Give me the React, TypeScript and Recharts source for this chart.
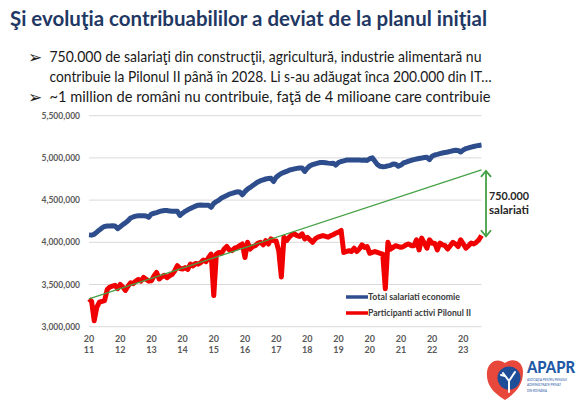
import React from 'react'
import {
  LineChart, Line, XAxis, YAxis, CartesianGrid, Legend, ReferenceLine,
} from 'recharts'

const BLUE = '#2E4D8C'
const RED = '#F00000'
const GREEN = '#45A045'
const NAVY = '#1F3864'

// ani (etichete axa X) si lunile fiecarui an
const YEARS = ['2011', '2012', '2013', '2014', '2015', '2016', '2017', '2018', '2019', '2020', '2021', '2022', '2023']
const MONTHS = ['01', '02', '03', '04', '05', '06', '07', '08', '09', '10', '11', '12']

// Total salariati economie (mii), lunar ian 2011 - aug 2023
const totalSalariati = [
  4088, 4085, 4095, 4120, 4147, 4170, 4188, 4192, 4193, 4195, 4194, 4162,
  4185, 4210, 4230, 4255, 4288, 4300, 4310, 4315, 4316, 4315, 4312, 4296,
  4335, 4344, 4352, 4362, 4372, 4376, 4377, 4370, 4368, 4369, 4367, 4318,
  4345, 4367, 4385, 4400, 4415, 4428, 4440, 4443, 4438, 4440, 4438, 4415,
  4462, 4482, 4500, 4526, 4540, 4555, 4571, 4580, 4590, 4598, 4596, 4563,
  4600, 4630, 4650, 4672, 4695, 4715, 4730, 4740, 4750, 4755, 4758, 4720,
  4770, 4795, 4815, 4828, 4840, 4855, 4862, 4870, 4876, 4880, 4880, 4840,
  4880, 4907, 4920, 4930, 4938, 4946, 4946, 4942, 4938, 4935, 4936, 4915,
  4945, 4958, 4965, 4975, 4976, 4975, 4974, 4976, 4975, 4972, 4975, 4970,
  4990, 5000, 4960, 4920, 4900, 4896, 4898, 4905, 4912, 4927, 4925, 4900,
  4915, 4940, 4950, 4962, 4972, 4980, 4987, 4993, 4998, 5005, 5007, 4980,
  5020, 5035, 5042, 5050, 5058, 5065, 5070, 5078, 5085, 5090, 5088, 5070,
  5095, 5110, 5118, 5128, 5135, 5142, 5148, 5152,
]

// Participanti activi Pilonul II (mii)
const participantiPilon2 = [
  3328, 3300, 3070, 3230, 3290, 3300, 3310, 3440, 3470, 3480, 3490, 3450,
  3500, 3470, 3430, 3480, 3520, 3510, 3540, 3560, 3540, 3585, 3560, 3540,
  3545, 3600, 3643, 3565, 3590, 3610, 3580, 3604, 3620, 3663, 3723, 3690,
  3684, 3700, 3680, 3743, 3720, 3750, 3740, 3760, 3790, 3770, 3820, 3860,
  3370, 3860, 3880, 3870, 3920, 3950, 3910, 3900, 3930, 3940, 3960, 3980,
  3820, 4000, 3920, 3950, 3960, 3990, 4000, 3970, 4020, 3980, 4040, 4020,
  4015, 3900, 3590, 4060, 4020, 4060, 4090, 4100, 4080, 4070, 4100, 4040,
  4060, 4030, 4000, 4040, 4060, 4070, 4080, 4070, 4060, 4080, 4090, 4110,
  4120, 4140, 3880, 3890, 3900, 3890, 3930, 3890, 3920, 3970, 3940, 3950,
  3870, 3880, 3890, 3880, 3870, 3860, 3450, 4000, 3920, 3940, 3960, 3950,
  3940, 3950, 3970, 3980, 3960, 3960, 4030, 3910, 4050, 3990, 3930, 4030,
  3990, 3990, 3910, 3990, 3970, 3960, 3920, 3960, 4000, 3980, 3950, 4030,
  3980, 3930, 3960, 3990, 3980, 4000, 4030, 4080,
]

// planul initial: linie dreapta intre doua capete (mii)
const planStart = 3330
const planEnd = 4858
// sageata "750.000 salariati" (mii)
const gapTop = 4858
const gapBottom = 4060

const Y_TICKS = [3000000, 3500000, 4000000, 4500000, 5000000, 5500000]

const labels = YEARS.flatMap(y => MONTHS.map(m => `${y}-${m}`)).slice(0, totalSalariati.length)
const last = labels.length - 1

const data = labels.map((m, i) => ({
  m,
  total: totalSalariati[i] * 1000,
  pilon: participantiPilon2[i] * 1000,
  plan: i === 0 ? planStart * 1000 : i === last ? planEnd * 1000 : null,
}))

const AXIS_FONT = 'Lato, "Open Sans", sans-serif'

const YearTick = (props: any) => {
  const { x, y, payload } = props
  const yr = String(payload.value).slice(0, 4)
  return (
    <text x={x} textAnchor="middle" fontFamily={AXIS_FONT} fontSize={9} fontWeight="bold" fill="#595959">
      <tspan x={x} y={y + 15.5}>{yr.slice(0, 2)}</tspan>
      <tspan x={x} y={y + 26.5}>{yr.slice(2)}</tspan>
    </text>
  )
}

const GapArrow = (props: any) => {
  const { x1, y1, y2 } = props
  const x = x1 + 4.5
  const mid = (y1 + y2) / 2
  return (
    <g>
      <line x1={x} x2={x} y1={y1 + 1} y2={y2 - 1} stroke={GREEN} strokeWidth={1.8} />
      <polyline points={`${x - 5},${y1 + 7} ${x},${y1 + 1} ${x + 5},${y1 + 7}`} fill="none" stroke={GREEN} strokeWidth={1.8} />
      <polyline points={`${x - 5},${y2 - 7} ${x},${y2 - 1} ${x + 5},${y2 - 7}`} fill="none" stroke={GREEN} strokeWidth={1.8} />
      <text x={x + 3} y={mid - 4} fontFamily={AXIS_FONT} fontSize={11} fontWeight="bold" fill="#262626" textLength={40} lengthAdjust="spacingAndGlyphs">750.000</text>
      <text x={x + 3} y={mid + 10} fontFamily={AXIS_FONT} fontSize={11} fontWeight="bold" fill="#262626" textLength={40} lengthAdjust="spacingAndGlyphs">salariati</text>
    </g>
  )
}

const LegendBox = () => (
  <svg width={140} height={34}>
    <line x1={2} x2={24} y1={9} y2={9} stroke={BLUE} strokeWidth={3.5} />
    <text x={24} y={12.3} fontFamily={AXIS_FONT} fontSize={9.5} fontWeight="bold" fill="#3a3a3a" textLength={92} lengthAdjust="spacingAndGlyphs">Total salariati economie</text>
    <line x1={2} x2={24} y1={25} y2={25} stroke={RED} strokeWidth={3.5} />
    <text x={24} y={28.3} fontFamily={AXIS_FONT} fontSize={9.5} fontWeight="bold" fill="#3a3a3a" textLength={103} lengthAdjust="spacingAndGlyphs">Participanti activi Pilonul II</text>
  </svg>
)

const TEXT_FONT = 'Lato, "Noto Sans", sans-serif'

const bullets = [
  { text: '750.000 de salariaţi din construcţii, agricultură, industrie alimentară nu', y: 61.5, w: 432, mark: true },
  { text: 'contribuie la Pilonul II până în 2028. Li s-au adăugat înca 200.000 din IT…', y: 81.5, w: 442, mark: false },
  { text: '~1 million de români nu contribuie, faţă de 4 milioane care contribuie', y: 102, w: 441, mark: true },
]

const Overlay = () => (
  <svg width={585} height={403} style={{ position: 'absolute', left: 0, top: 0, pointerEvents: 'none' }}>
    <text x={10} y={26} fontFamily={TEXT_FONT} fontSize={20} fontWeight="bold" fill={NAVY} textLength={477} lengthAdjust="spacingAndGlyphs">
      Şi evoluţia contribuabililor a deviat de la planul iniţial
    </text>
    {bullets.map(b => (
      <g key={b.text}>
        {b.mark && (
          <text x={28} y={b.y + 1} fontFamily='"DejaVu Sans", sans-serif' fontSize={17} fill="#1a1a1a">➢</text>
        )}
        <text x={49.5} y={b.y} fontFamily={TEXT_FONT} fontSize={15} fill="#1a1a1a" textLength={b.w} lengthAdjust="spacingAndGlyphs">{b.text}</text>
      </g>
    ))}
    {/* sigla APAPR */}
    <g>
      <path d="M505 400 C 492 392, 486 384, 487 372 C 488 362, 497 357, 505 363 C 513 357, 523 361, 523 372 C 523 384, 517 392, 505 400 Z" fill="#E8473C" />
      <circle cx={509} cy={378} r={11.5} fill="#1F4E99" />
      <path d="M509 392 L509 381 M509 381 L503 373 M509 381 L515 372 M505 376 L501 375" stroke="#fff" strokeWidth={2} strokeLinecap="round" fill="none" />
      <text x={527} y={373} fontFamily={TEXT_FONT} fontSize={16} fontWeight="900" fill="#1F5AA6" textLength={48} lengthAdjust="spacingAndGlyphs">APAPR</text>
      <text x={527} y={380.5} fontFamily={TEXT_FONT} fontSize={4.2} fill="#1F5AA6" textLength={40} lengthAdjust="spacingAndGlyphs">ASOCIAŢIA PENTRU PENSIILE</text>
      <text x={527} y={386} fontFamily={TEXT_FONT} fontSize={4.2} fill="#1F5AA6" textLength={34} lengthAdjust="spacingAndGlyphs">ADMINISTRATE PRIVAT</text>
      <text x={527} y={391.5} fontFamily={TEXT_FONT} fontSize={4.2} fill="#1F5AA6" textLength={20} lengthAdjust="spacingAndGlyphs">DIN ROMÂNIA</text>
    </g>
  </svg>
)

export default function App() {
  return (
    <div style={{ position: 'absolute', left: 0, top: 0, width: 585, height: 403, background: '#fff' }}>
      <LineChart width={585} height={403} data={data} margin={{ top: 115.7, right: 103.5, bottom: 46.3, left: 9 }}>
        <CartesianGrid vertical={false} stroke="#D9D9D9" />
        <XAxis dataKey="m" interval={11} tick={<YearTick />} tickLine={false} axisLine={false} tickSize={0} tickMargin={0} height={30} />
        <YAxis
          domain={[3000000, 5500000]}
          ticks={Y_TICKS}
          tickFormatter={(v: number) => v.toLocaleString('en-US')}
          tick={{ fontFamily: AXIS_FONT, fontSize: 8.5, fontWeight: 'bold', fill: '#595959' }}
          tickLine={false}
          axisLine={false}
          tickSize={0}
          tickMargin={9}
          width={80}
        />
        {/* legenda in interiorul graficului, fara spatiu rezervat */}
        <Legend
          layout="vertical"
          align="center"
          verticalAlign="middle"
          content={<LegendBox />}
          wrapperStyle={{ position: 'absolute', left: 344, top: 288, width: 140, height: 34 }}
        />
        <Line dataKey="total" name="Total salariati economie" stroke={BLUE} strokeWidth={5} dot={false} strokeLinejoin="round" isAnimationActive={false} />
        <Line dataKey="pilon" name="Participanti activi Pilonul II" stroke={RED} strokeWidth={5} dot={false} strokeLinejoin="round" isAnimationActive={false} />
        <Line dataKey="plan" stroke={GREEN} strokeWidth={1.3} dot={false} connectNulls legendType="none" isAnimationActive={false} />
        <ReferenceLine
          segment={[{ x: labels[last], y: gapTop * 1000 }, { x: labels[last], y: gapBottom * 1000 }]}
          shape={<GapArrow />}
        />
      </LineChart>
      <Overlay />
    </div>
  )
}
